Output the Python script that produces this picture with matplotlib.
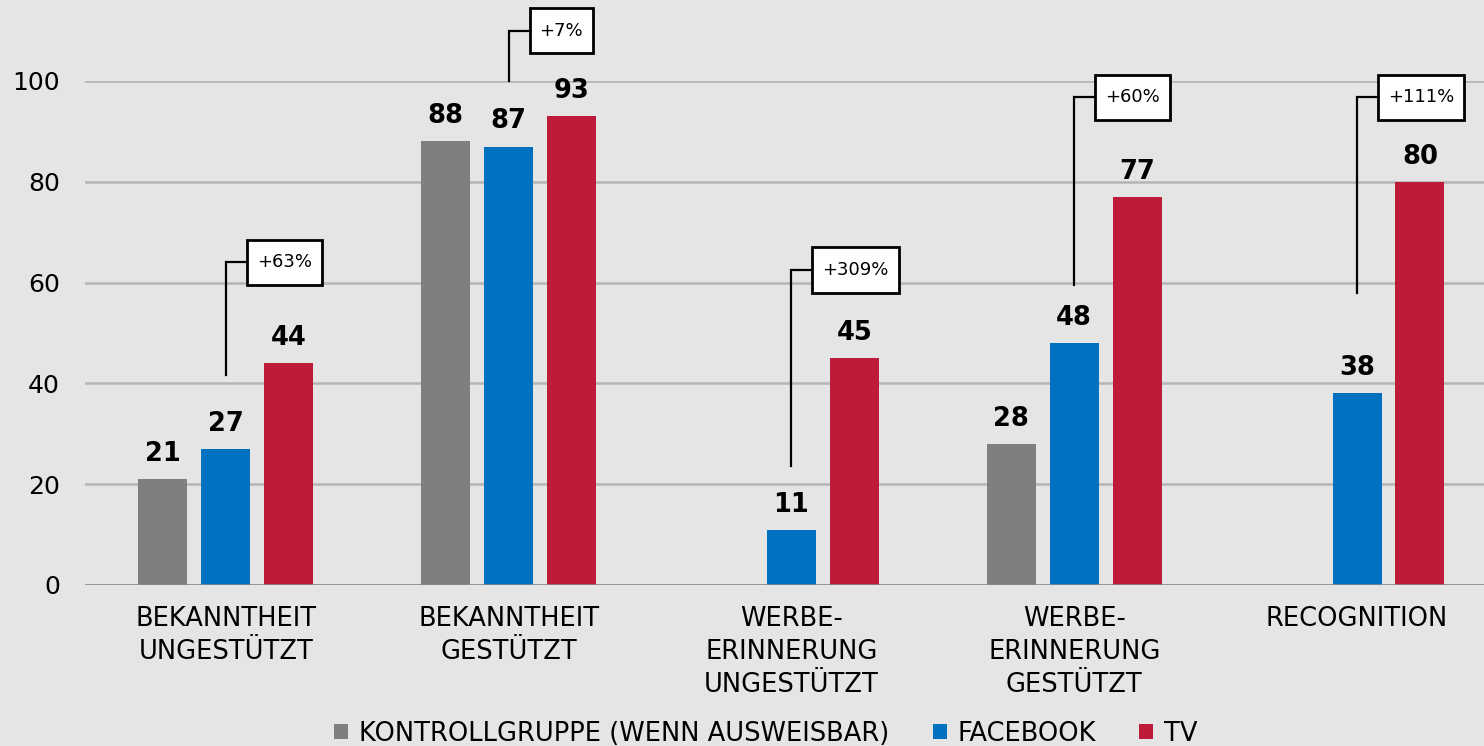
import numpy as np
import matplotlib.pyplot as plt
from matplotlib.path import Path

# data
categories = ['BEKANNTHEIT\nUNGESTÜTZT', 'BEKANNTHEIT\nGESTÜTZT',
              'WERBE-\nERINNERUNG\nUNGESTÜTZT', 'WERBE-\nERINNERUNG\nGESTÜTZT',
              'RECOGNITION']
kontrolle = [21, 88, np.nan, 28, np.nan]
facebook = [27, 87, 11, 48, 38]
tv = [44, 93, 45, 77, 80]
series_names = ['KONTROLLGRUPPE (WENN AUSWEISBAR)', 'FACEBOOK', 'TV']
uplift = ['+63%', '+7%', '+309%', '+60%', '+111%']

# layout of the uplift callouts: (line start y, line top y)
callout_y = [(41.7, 64), (100, 110), (23.6, 62.5), (59.5, 96.8), (58, 96.8)]

colors = ['#7f7f7f', '#0070c0', '#be1a3a']
bg = '#e5e5e5'

plt.rcParams['font.family'] = 'DejaVu Sans'

fig = plt.figure(figsize=(14.84, 7.46), dpi=100, facecolor=bg)
ax = fig.add_axes([85 / 1484, 1 - 585 / 746, 1399 / 1484, 504 / 746])
ax.set_facecolor(bg)

x = np.arange(len(categories))
step = 63 / 283
width = 49 / 283
for i, vals in enumerate([kontrolle, facebook, tv]):
    vals = np.array(vals, dtype=float)
    ax.bar(x + (i - 1) * step, vals, width, color=colors[i], label=series_names[i], zorder=3)
    for xi, v in zip(x, vals):
        if np.isnan(v):
            continue
        ax.annotate(f'{v:.0f}', (xi + (i - 1) * step, v), xytext=(0, 13),
                    textcoords='offset points', ha='center', va='baseline',
                    fontsize=18.5, fontweight='bold', color='black', zorder=4)


# box a bit taller than the text, like the original callouts
def callout_box(x0, y0, w, h, mutation_size):
    px, py = 0.55 * mutation_size, 0.75 * mutation_size
    x0, y0, w, h = x0 - px, y0 - py, w + 2 * px, h + 2 * py
    return Path([(x0, y0), (x0 + w, y0), (x0 + w, y0 + h), (x0, y0 + h), (x0, y0)],
                closed=True)


fs = 13
gap = 21 / 283
for xi, txt, (y0, y1) in zip(x, uplift, callout_y):
    ax.plot([xi, xi, xi + gap], [y0, y1, y1], color='black', lw=1.6,
            clip_on=False, zorder=5, solid_joinstyle='miter')
    ax.annotate(txt, (xi + gap, y1), xytext=(0.55 * fs, 0), textcoords='offset points',
                ha='left', va='center', fontsize=fs, color='black', zorder=6,
                annotation_clip=False,
                bbox=dict(boxstyle=callout_box, fc='white', ec='black', lw=2))

ax.set_xlim(-0.498, 4.449)
ax.set_ylim(0, 100)
ax.set_yticks([0, 20, 40, 60, 80, 100])
ax.yaxis.grid(True, color='#b5b5b5', lw=1.8, zorder=0)
ax.axhline(0, color='#8a8a8a', lw=1.8, zorder=4)
ax.set_xticks(x)
ax.set_xticklabels(categories, fontsize=18.5, linespacing=1.35)
ax.tick_params(axis='x', length=0, pad=15)
ax.tick_params(axis='y', length=0, pad=18, labelsize=18)
for s in ax.spines.values():
    s.set_visible(False)

fig.legend(loc='lower center', bbox_to_anchor=(0.516, -0.032), ncol=3, frameon=False,
           fontsize=18.5, handlelength=0.55, handleheight=0.55, handletextpad=0.4,
           columnspacing=1.7)

fig.savefig('out.png', dpi=100, facecolor=bg)
